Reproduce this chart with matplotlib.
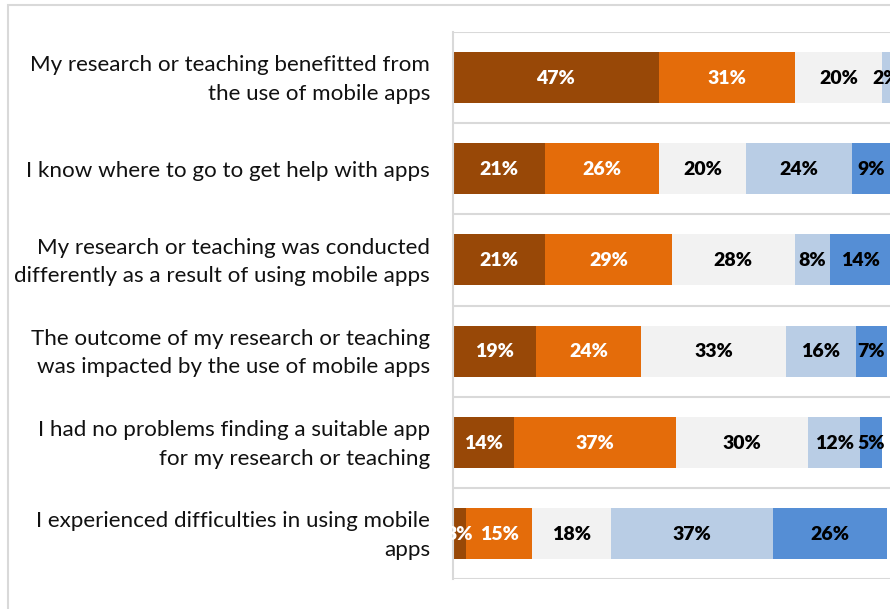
import matplotlib
matplotlib.use("Agg")
import matplotlib.pyplot as plt
import matplotlib.transforms as mtransforms
from matplotlib.patches import Rectangle
import numpy as np

# ---------- data ----------
statements = [
    "My research or teaching benefitted from\nthe use of mobile apps",
    "I know where to go to get help with apps",
    "My research or teaching was conducted\ndifferently as a result of using mobile apps",
    "The outcome of my research or teaching\nwas impacted by the use of mobile apps",
    "I had no problems finding a suitable app\nfor my research or teaching",
    "I experienced difficulties in using mobile\napps",
]
strongly_agree = [47, 21, 21, 19, 14, 3]
agree = [31, 26, 29, 24, 37, 15]
neutral = [20, 20, 28, 33, 30, 18]
disagree = [2, 24, 8, 16, 12, 37]
strongly_disagree = [0, 9, 14, 7, 5, 26]

series = [strongly_agree, agree, neutral, disagree, strongly_disagree]
colors = ["#984807", "#E46C0A", "#F2F2F2", "#B9CDE5", "#558ED5"]
text_colors = ["white", "white", "black", "black", "black"]

FONT = "Lato"
GRID = "#D9D9D9"

# ---------- figure ----------
W, H = 890, 609
fig = plt.figure(figsize=(W / 100, H / 100), dpi=100)
ax = fig.add_axes([453 / W, 1 - 579 / H, 438 / W, (579 - 32) / H])

y = np.arange(len(statements))
left = np.zeros(len(statements))
for vals, c, tc in zip(series, colors, text_colors):
    vals = np.array(vals, dtype=float)
    ax.barh(y, vals, left=left, height=0.56, color=c, edgecolor="none", zorder=2)
    for yi, v, l in zip(y, vals, left):
        if v > 0:
            ax.text(l + v / 2, yi + 0.01, f"{v:.0f}%", ha="center", va="center",
                    color=tc, fontsize=14, fontweight="heavy", family=FONT,
                    zorder=3, clip_on=False)
    left += vals

ax.set_xlim(0, 100)
ax.set_ylim(len(statements) - 0.5, -0.5)

# separators between categories
for b in np.arange(-0.5, len(statements), 1.0):
    ax.axhline(b, color=GRID, lw=1.5, zorder=1)

for s in ["top", "bottom", "right"]:
    ax.spines[s].set_visible(False)
ax.spines["left"].set_color(GRID)
ax.spines["left"].set_linewidth(1.5)
ax.set_xticks([])
ax.set_yticks(y)
ax.set_yticklabels(statements, family=FONT, fontsize=16.1, color="#111111",
                   linespacing=1.55, ha="right", va="center")
ax.tick_params(axis="y", length=0, pad=16.5)
# nudge the labels down a touch
shift = mtransforms.ScaledTranslation(0, -2 / 100, fig.dpi_scale_trans)
for lab in ax.get_yticklabels():
    lab.set_transform(lab.get_transform() + shift)

# chart area border
fig.patches.append(Rectangle((8 / W, -0.1), 1.1, (H - 5) / H + 0.1,
                             transform=fig.transFigure, fill=False,
                             edgecolor=GRID, lw=1.5))

fig.savefig("out.png", dpi=100)
